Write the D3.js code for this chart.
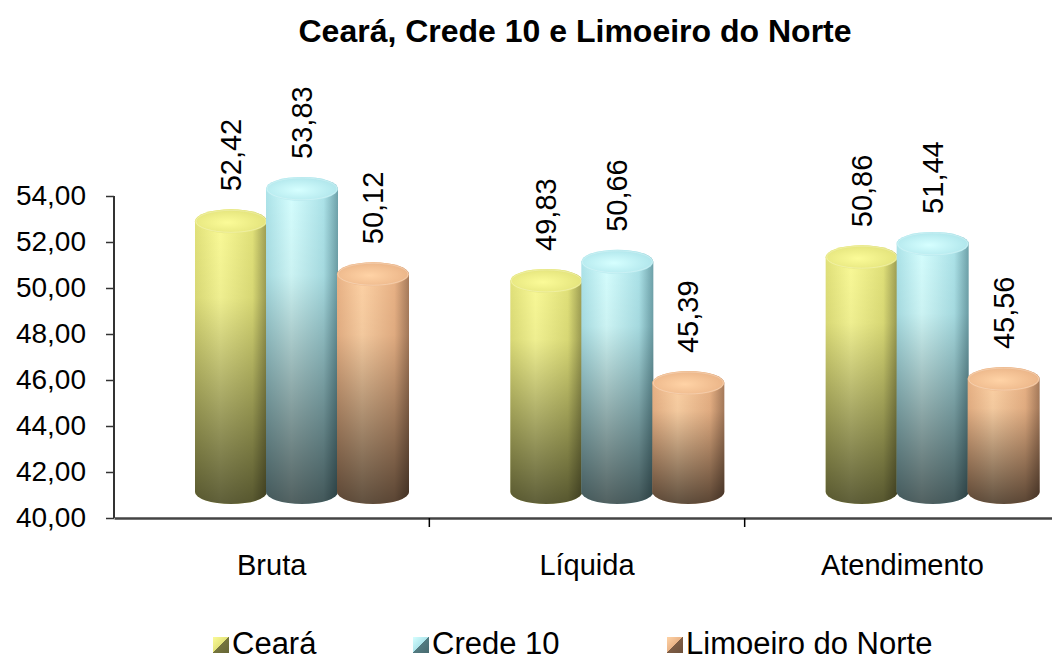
<!DOCTYPE html>
<html>
<head>
<meta charset="utf-8">
<script src="https://cdn.jsdelivr.net/npm/d3@7"></script>
<style>
  body { margin: 0; background: #fff; }
  text { font-family: "Liberation Sans", Arial, sans-serif; fill: #000; }
</style>
</head>
<body>
<svg id="chart" width="1052" height="662"></svg>
<script>
const categories = ["Bruta", "Líquida", "Atendimento"];
const seriesNames = ["Ceará", "Crede 10", "Limoeiro do Norte"];
const ceara = [52.42, 49.83, 50.86];
const crede10 = [53.83, 50.66, 51.44];
const limoeiro = [50.12, 45.39, 45.56];
const yTicks = [40, 42, 44, 46, 48, 50, 52, 54];

const seriesValues = [ceara, crede10, limoeiro];
// light, mid, dark for each cylinder
const palette = [
    {light: "#fbfb98", mid: "#e2e27a", dark: "#9c9c52"},
    {light: "#d6ffff", mid: "#ade4ea", dark: "#6fa3ab"},
    {light: "#ffd3a6", mid: "#eab386", dark: "#a87c5c"}
];

const svg = d3.select("#chart");
const fmt = v => d3.format(".2f")(v).replace(".", ",");

const plotLeft = 114, plotBottom = 518, plotTop = 196;
const x = d3.scaleBand().domain(categories).range([plotLeft, 1060]);
const y = d3.scaleLinear().domain([40, 54]).range([plotBottom, plotTop]);
const inner = d3.scaleBand().domain(d3.range(3)).range([81, 294]);

const defs = svg.append("defs");
palette.forEach((p, i) => {
    const g = defs.append("linearGradient").attr("id", "body" + i)
        .attr("x1", "0").attr("x2", "1").attr("y1", "0").attr("y2", "0");
    g.append("stop").attr("offset", "0").attr("stop-color", p.mid);
    g.append("stop").attr("offset", "0.35").attr("stop-color", p.light);
    g.append("stop").attr("offset", "0.8").attr("stop-color", p.mid);
    g.append("stop").attr("offset", "1").attr("stop-color", p.dark);

    const t = defs.append("radialGradient").attr("id", "top" + i)
        .attr("cx", "0.45").attr("cy", "0.55").attr("r", "0.6");
    t.append("stop").attr("offset", "0").attr("stop-color", p.light);
    t.append("stop").attr("offset", "1").attr("stop-color", p.mid);

    const lg = defs.append("linearGradient").attr("id", "leg" + i)
        .attr("x1", "0").attr("x2", "1").attr("y1", "0").attr("y2", "1");
    lg.append("stop").attr("offset", "0").attr("stop-color", p.light);
    lg.append("stop").attr("offset", "0.5").attr("stop-color", p.mid);
    lg.append("stop").attr("offset", "0.5").attr("stop-color", d3.color(p.dark).darker(0.8));
    lg.append("stop").attr("offset", "1").attr("stop-color", d3.color(p.dark).darker(1.2));
});
const shade = defs.append("linearGradient").attr("id", "shade")
    .attr("x1", "0").attr("x2", "0").attr("y1", "0").attr("y2", "1");
shade.append("stop").attr("offset", "0").attr("stop-color", "#000").attr("stop-opacity", 0);
shade.append("stop").attr("offset", "0.3").attr("stop-color", "#000").attr("stop-opacity", 0.05);
shade.append("stop").attr("offset", "1").attr("stop-color", "#000").attr("stop-opacity", 0.62);

// title
svg.append("text")
    .attr("x", 575).attr("y", 42)
    .attr("text-anchor", "middle")
    .style("font-size", "32px").style("font-weight", "bold")
    .text("Ceará, Crede 10 e Limoeiro do Norte");

// y axis
const yAxis = svg.append("g")
    .attr("transform", `translate(${plotLeft},0)`)
    .call(d3.axisLeft(y).tickValues(yTicks).tickSize(8).tickFormat(fmt));
yAxis.select(".domain").attr("stroke", "#333").attr("stroke-width", 2).attr("d", `M0,${plotTop}V${plotBottom}`);
yAxis.selectAll(".tick line").attr("stroke", "#333").attr("stroke-width", 1.5);
yAxis.selectAll(".tick text").attr("x", -28).style("font-size", "28px").style("font-family", "Liberation Sans, Arial, sans-serif").attr("fill", "#000");

// x axis
const xAxis = svg.append("g")
    .attr("transform", `translate(0,${plotBottom})`)
    .call(d3.axisBottom(x).tickSize(0).tickFormat(d => d));
xAxis.select(".domain").attr("stroke", "#444").attr("stroke-width", 2.5);
xAxis.selectAll(".tick text").attr("y", 36).style("font-size", "29px").style("font-family", "Liberation Sans, Arial, sans-serif").attr("fill", "#000");
xAxis.selectAll(".sep").data(categories.slice(1)).enter().append("line")
    .attr("x1", d => x(d)).attr("x2", d => x(d))
    .attr("y1", 0).attr("y2", 9)
    .attr("stroke", "#000").attr("stroke-width", 1.5);

// cylinders
const ry = 12;
const botC = y(40) - 26;
const w = inner.bandwidth() + 1;

categories.forEach((cat, ci) => {
    seriesValues.forEach((vals, si) => {
        const v = vals[ci];
        const x0 = x(cat) + inner(si);
        const cx = x0 + w / 2;
        const rx = w / 2;
        const topC = y(v) - 11;
        const bodyPath = `M${x0},${topC} L${x0},${botC} A${rx},${ry} 0 0 0 ${x0 + w},${botC} L${x0 + w},${topC} A${rx},${ry} 0 0 0 ${x0},${topC} Z`;
        const g = svg.append("g");
        g.append("path").attr("d", bodyPath).attr("fill", `url(#body${si})`);
        g.append("path").attr("d", bodyPath).attr("fill", "url(#shade)");
        g.append("ellipse")
            .attr("cx", cx).attr("cy", topC)
            .attr("rx", rx).attr("ry", ry)
            .attr("fill", `url(#top${si})`);
        g.append("ellipse")
            .attr("cx", cx).attr("cy", topC)
            .attr("rx", rx - 1).attr("ry", ry - 1)
            .attr("fill", "none").attr("stroke", "#fff").attr("stroke-opacity", 0.25);

        svg.append("text")
            .attr("transform", `translate(${cx},${y(v) - 41}) rotate(-90)`)
            .attr("dominant-baseline", "central")
            .style("font-size", "29px")
            .text(fmt(v));
    });
});

// legend
const legendX = [213, 413, 667];
const legend = svg.append("g").attr("class", "legend");
seriesNames.forEach((name, i) => {
    const row = legend.append("g").attr("transform", `translate(${legendX[i]},637)`);
    row.append("rect").attr("width", 16).attr("height", 16).attr("fill", `url(#leg${i})`);
    row.append("text").attr("x", 19).attr("y", 17).style("font-size", "31px").text(name);
});
</script>
</body>
</html>
